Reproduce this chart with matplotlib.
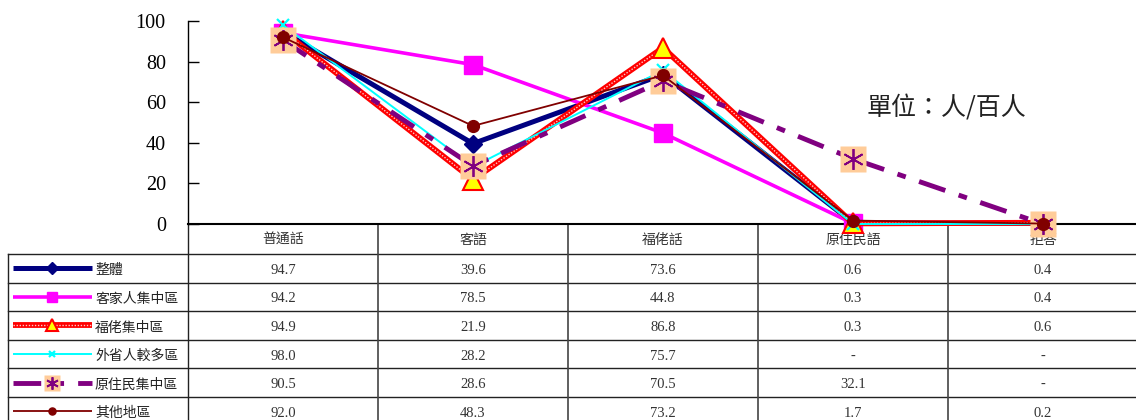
import numpy as np
import matplotlib
matplotlib.use('Agg')
import matplotlib.pyplot as plt

# ---------------- data ----------------
categories = ['普通話', '客語', '福佬話', '原住民語', '拒答']
series_names = ['整體', '客家人集中區', '福佬集中區', '外省人較多區', '原住民集中區', '其他地區']
overall = [94.7, 39.6, 73.6, 0.6, 0.4]
hakka = [94.2, 78.5, 44.8, 0.3, 0.4]
hoklo = [94.9, 21.9, 86.8, 0.3, 0.6]
mainlander = [98.0, 28.2, 75.7, None, None]
indigenous = [90.5, 28.6, 70.5, 32.1, None]
other = [92.0, 48.3, 73.2, 1.7, 0.2]
series_values = [overall, hakka, hoklo, mainlander, indigenous, other]
yticks = [0, 20, 40, 60, 80, 100]
unit_label = '單位：人/百人'

CJK = ['Noto Sans CJK TC', 'DejaVu Sans']
SERIF = ['Liberation Serif', 'DejaVu Serif']

W, H = 1136, 420
fig = plt.figure(figsize=(W / 100, H / 100), dpi=100)

# main plot axes (pixel layout: x 188..1138, y 21..224)
ax = fig.add_axes([188 / W, 1 - 224 / H, 950 / W, 203 / H])
ax.set_xlim(-0.5, len(categories) - 0.5)
ax.set_ylim(0, 100)
ax.patch.set_alpha(0)
ax.set_zorder(5)
for s in ['top', 'right']:
    ax.spines[s].set_visible(False)
ax.spines['left'].set_linewidth(1.0)
ax.spines['bottom'].set_linewidth(1.5)
ax.set_xticks([])
ax.set_yticks(yticks)
ax.set_yticklabels([str(t) for t in yticks], family=SERIF, fontsize=14.5)
ax.tick_params(axis='y', direction='in', length=8, width=1, pad=16)


def draw_series(a, xs, ys, i, legend=False):
    z = 3 + i
    lm = 0.6 if legend else 1.0
    kw_line = dict(zorder=z, clip_on=False, solid_capstyle='butt')
    if legend:
        line_x, line_y = [xs[0], xs[-1]], [ys[0], ys[0]]
        mx, my = [np.mean(xs)], [ys[0]]
    else:
        line_x, line_y = xs, ys
        mx, my = xs, ys
    if i == 0:
        a.plot(line_x, line_y, color='#000080', lw=3.6, **kw_line)
        a.plot(mx, my, ls='none', marker='D', ms=9.5 * lm, color='#000080', zorder=z, clip_on=False)
    elif i == 1:
        a.plot(line_x, line_y, color='#FF00FF', lw=2.6, **kw_line)
        a.plot(mx, my, ls='none', marker='s', ms=13 * lm, color='#FF00FF', zorder=z, clip_on=False)
    elif i == 2:
        a.plot(line_x, line_y, color='#FF0000', lw=4.2, **kw_line)
        a.plot(line_x, line_y, color='#FFC8C8', lw=1.0, ls=(0, (1, 1.2)), zorder=z, clip_on=False)
        a.plot(mx, my, ls='none', marker='^', ms=14 * lm, mfc='#FFFF00', mec='#FF0000', mew=1.5,
               zorder=z, clip_on=False)
    elif i == 3:
        a.plot(line_x, line_y, color='#00FFFF', lw=1.4, **kw_line)
        a.plot(mx, my, ls='none', marker='x', ms=8 * lm, mew=1.6, color='#00FFFF', zorder=z, clip_on=False)
    elif i == 4:
        a.plot(line_x, line_y, color='#800080', lw=3.5, dashes=[5.7, 2.9, 1.8, 2.9],
               dash_capstyle='butt', zorder=z, clip_on=False)
        a.plot(mx, my, ls='none', marker='s', ms=18.5 * lm, mfc='#FFCC99', mec='none',
               zorder=z, clip_on=False)
        a.plot(mx, my, ls='none', marker=(6, 2, 0), ms=15 * lm, mew=1.3, color='#800080',
               zorder=z, clip_on=False)
    elif i == 5:
        a.plot(line_x, line_y, color='#800000', lw=1.3, **kw_line)
        a.plot(mx, my, ls='none', marker='o', ms=8.5 * lm, color='#800000', zorder=z, clip_on=False)


x = np.arange(len(categories))
for i, vals in enumerate(series_values):
    yv = [v if v is not None else 0 for v in vals]  # '-' plotted as zero
    draw_series(ax, x, yv, i)

fig.text(867 / W, 1 - 108 / H, unit_label, family=CJK, fontsize=18, va='center', ha='left',
         color='#222222')

# ---------------- data table ----------------
tax = fig.add_axes([188 / W, 0, 950 / W, 196 / H])
tax.set_xlim(-0.5, len(categories) - 0.5)
tax.set_ylim(420, 224)
tax.axis('off')
tax.set_zorder(1)


def px2x(px):
    return -0.5 + (px - 188) / 190.0


header_top, header_bot = 224, 254
row_h = 28.6
n_rows = len(series_names)
row_tops = [header_bot + row_h * r for r in range(n_rows + 1)]
lc = '#222222'
xleft = px2x(8)
xright = len(categories) - 0.5
bottom = row_tops[-1]

# horizontal lines
tax.plot([xleft, xright], [header_bot, header_bot], color=lc, lw=1, clip_on=False)
for yt in row_tops[1:]:
    tax.plot([xleft, xright], [yt, yt], color=lc, lw=1, clip_on=False)
# vertical lines
tax.plot([-0.5, -0.5], [header_top, bottom], color=lc, lw=1, clip_on=False)
for k in range(1, len(categories)):
    tax.plot([k - 0.5, k - 0.5], [header_top, bottom], color='#444444', lw=1.2, clip_on=False)
tax.plot([xleft, xleft], [header_bot, bottom], color=lc, lw=1, clip_on=False)

# header text
for k, c in enumerate(categories):
    tax.text(k, (header_top + header_bot) / 2 + 1, c, family=CJK, fontsize=10, ha='center',
             va='center', color='#333333', clip_on=False)

# rows
for r, (name, vals) in enumerate(zip(series_names, series_values)):
    yc = row_tops[r] + row_h / 2 + 2
    for k, v in enumerate(vals):
        txt = '-' if v is None else f'{v:.1f}'
        tax.text(k, yc, txt, family=SERIF, fontsize=10.5, ha='center', va='center',
                 color='#333333', clip_on=False)
    tax.text(px2x(95), yc, name, family=CJK, fontsize=10, ha='left', va='center',
             color='#222222', clip_on=False)
    draw_series(tax, [px2x(13), px2x(92)], [yc - 2, yc - 2], r, legend=True)

fig.savefig('out.png', dpi=100)
